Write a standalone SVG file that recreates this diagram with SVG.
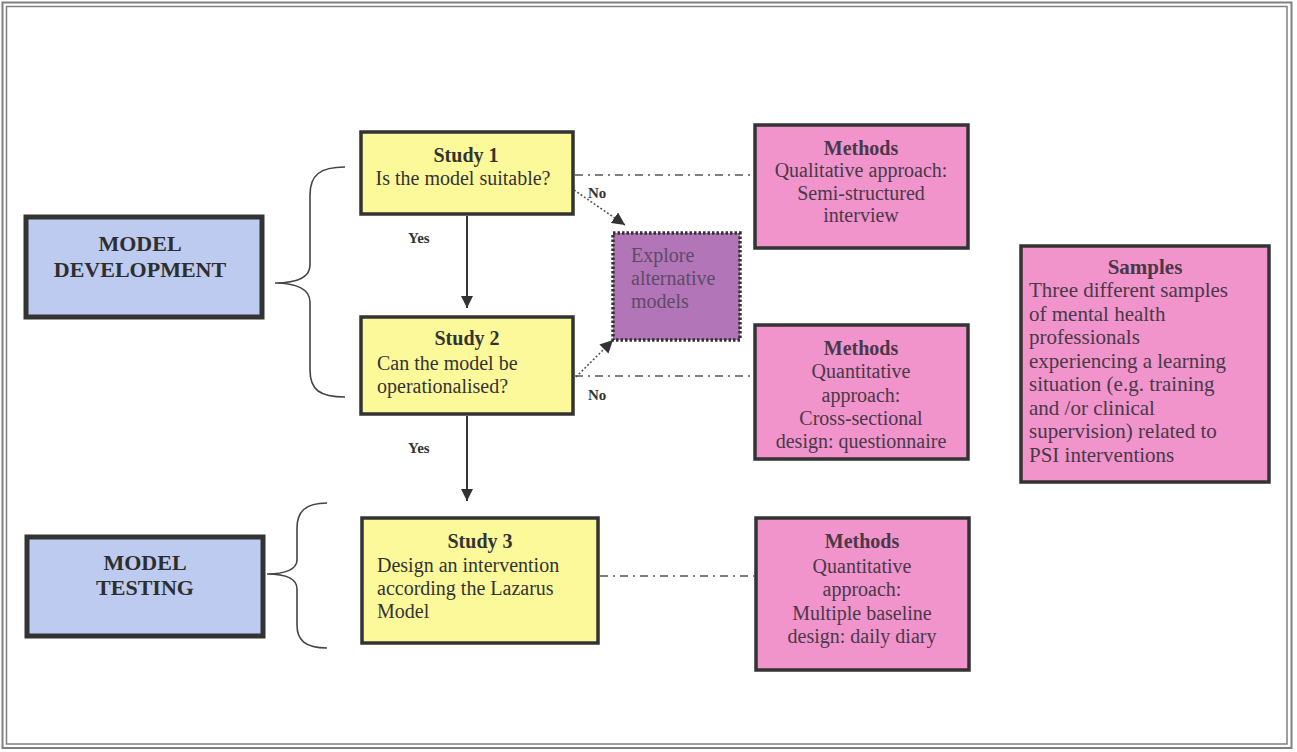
<svg xmlns="http://www.w3.org/2000/svg" width="1297" height="752" viewBox="0 0 1297 752">
<defs>
<style>
text{font-family:"Liberation Serif","Times New Roman",serif;font-size:20px;fill:#333;}
.b{font-weight:bold;}
.c{text-anchor:middle;}
.big{font-size:22px;font-weight:bold;fill:#2e2e2e;}
.lbl{font-size:15px;font-weight:bold;fill:#333;}
.blue{fill:#bccbef;stroke:#333;stroke-width:5;}
.yel{fill:#fcf99a;stroke:#333;stroke-width:3.5;}
.pink{fill:#f094cb;stroke:#333;stroke-width:3.5;}
.ptxt{fill:#4a3848;}
.s21{font-size:21px;}
.exp{fill:#5e4b66;}
.brace{fill:none;stroke:#444;stroke-width:1.6;}
.solid{stroke:#333;stroke-width:2;fill:none;}
.dot{stroke:#555;stroke-width:1.6;stroke-dasharray:2 2;fill:none;}
.dd{stroke:#555;stroke-width:1.5;stroke-dasharray:8 5 2 5;fill:none;}
</style>
<marker id="ah" viewBox="0 0 10 10" refX="10" refY="5" markerWidth="6" markerHeight="6" orient="auto" markerUnits="strokeWidth">
<path d="M0,0 L10,5 L0,10 Z" fill="#333"/>
</marker>
<marker id="ahd" viewBox="0 0 10 10" refX="10" refY="5" markerWidth="8" markerHeight="8" orient="auto" markerUnits="strokeWidth">
<path d="M0,0 L10,5 L0,10 Z" fill="#333"/>
</marker>
</defs>
<rect x="0" y="0" width="1297" height="752" fill="#ffffff"/>
<g id="frame" fill="none" stroke="#808080">
<rect x="2.5" y="2.5" width="1289" height="745.5" stroke-width="2"/>
<rect x="6.5" y="6.5" width="1280.5" height="737.5" stroke-width="1.5"/>
</g>
<g id="model-development">
<rect class="blue" x="26" y="217" width="236" height="100"/>
<text class="big c" x="140" y="251">MODEL</text>
<text class="big c" x="140" y="277">DEVELOPMENT</text>
</g>
<g id="model-testing">
<rect class="blue" x="27" y="537" width="236" height="99"/>
<text class="big c" x="145" y="570">MODEL</text>
<text class="big c" x="145" y="595">TESTING</text>
</g>
<g id="braces">
<path class="brace" d="M345,167 C320,167 310,175 310,195 L310,265 C310,278 296,283 275,283 C296,283 310,289 310,302 L310,370 C310,390 320,397 345,397"/>
<path class="brace" d="M327,503 C305,503 297,512 297,528 L297,560 C297,569 286,574 267,574 C286,574 297,579 297,589 L297,625 C297,640 305,648 327,648"/>
</g>
<g id="study1">
<rect class="yel" x="361" y="132" width="212" height="82"/>
<text class="b c" x="466" y="162">Study 1</text>
<text class="c" x="463" y="185">Is the model suitable?</text>
</g>
<g id="study2">
<rect class="yel" x="361" y="317" width="212" height="97"/>
<text class="b c" x="467" y="345">Study 2</text>
<text x="377" y="370">Can the model be</text>
<text x="377" y="393">operationalised?</text>
</g>
<g id="study3">
<rect class="yel" x="362" y="518" width="236" height="125"/>
<text class="b c" x="480" y="548">Study 3</text>
<text x="377" y="572">Design an intervention</text>
<text x="377" y="595">according the Lazarus</text>
<text x="377" y="618">Model</text>
</g>
<g id="explore">
<rect x="613" y="233" width="127" height="107" fill="#b275b8" stroke="#333" stroke-width="3.5" stroke-dasharray="2.5 2"/>
<text class="exp" x="631" y="262">Explore</text>
<text class="exp" x="631" y="285">alternative</text>
<text class="exp" x="631" y="308">models</text>
</g>
<g id="methods1">
<rect class="pink" x="755" y="125" width="213" height="123"/>
<text class="b c ptxt" x="861" y="155">Methods</text>
<text class="c ptxt" x="861" y="177">Qualitative approach:</text>
<text class="c ptxt" x="861" y="200">Semi-structured</text>
<text class="c ptxt" x="861" y="222">interview</text>
</g>
<g id="methods2">
<rect class="pink" x="755" y="325" width="213" height="134"/>
<text class="b c ptxt" x="861" y="355">Methods</text>
<text class="c ptxt" x="861" y="378">Quantitative</text>
<text class="c ptxt" x="861" y="402">approach:</text>
<text class="c ptxt" x="861" y="425">Cross-sectional</text>
<text class="c ptxt" x="861" y="448">design: questionnaire</text>
</g>
<g id="methods3">
<rect class="pink" x="756" y="518" width="213" height="152"/>
<text class="b c ptxt" x="862" y="548">Methods</text>
<text class="c ptxt" x="862" y="573">Quantitative</text>
<text class="c ptxt" x="862" y="596">approach:</text>
<text class="c ptxt" x="862" y="620">Multiple baseline</text>
<text class="c ptxt" x="862" y="643">design: daily diary</text>
</g>
<g id="samples">
<rect class="pink" x="1021" y="246" width="248" height="236"/>
<text class="b c ptxt s21" x="1145" y="274">Samples</text>
<text class="ptxt s21" x="1029" y="297">Three different samples</text>
<text class="ptxt s21" x="1029" y="320.5">of mental health</text>
<text class="ptxt s21" x="1029" y="344">professionals</text>
<text class="ptxt s21" x="1029" y="367.5">experiencing a learning</text>
<text class="ptxt s21" x="1029" y="391">situation (e.g. training</text>
<text class="ptxt s21" x="1029" y="414.5">and /or clinical</text>
<text class="ptxt s21" x="1029" y="438">supervision) related to</text>
<text class="ptxt s21" x="1029" y="461.5">PSI interventions</text>
</g>
<g id="connectors">
<line class="solid" x1="467" y1="216" x2="467" y2="308" marker-end="url(#ah)"/>
<line class="solid" x1="467" y1="416" x2="467" y2="501" marker-end="url(#ah)"/>
<line class="dot" x1="574" y1="190" x2="625" y2="225" marker-end="url(#ahd)"/>
<line class="dot" x1="576" y1="377" x2="613" y2="340" marker-end="url(#ahd)"/>
<line class="dd" x1="575" y1="175" x2="755" y2="175"/>
<line class="dd" x1="575" y1="376" x2="755" y2="376"/>
<line class="dd" x1="600" y1="576" x2="756" y2="576"/>
<text class="lbl" x="408" y="243">Yes</text>
<text class="lbl" x="408" y="453">Yes</text>
<text class="lbl" x="588" y="198">No</text>
<text class="lbl" x="588" y="400">No</text>
</g>
</svg>
